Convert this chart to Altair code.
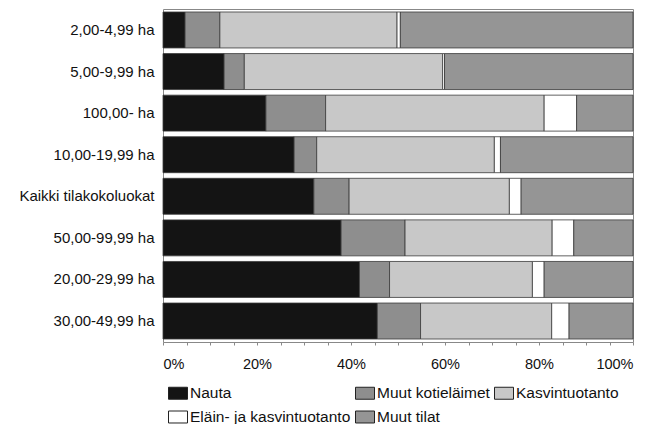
import altair as alt
import pandas as pd

categories = ["2,00-4,99 ha", "5,00-9,99 ha", "100,00- ha", "10,00-19,99 ha",
              "Kaikki tilakokoluokat", "50,00-99,99 ha", "20,00-29,99 ha", "30,00-49,99 ha"]
series = ["Nauta", "Muut kotieläimet", "Kasvintuotanto", "Eläin- ja kasvintuotanto", "Muut tilat"]
colors = ["#141414", "#8e8e8e", "#c8c8c8", "#ffffff", "#959595"]

nauta = [4.7, 13.0, 21.9, 27.9, 32.1, 37.9, 41.8, 45.6]
muut_kotielaimet = [7.4, 4.3, 12.7, 4.8, 7.5, 13.6, 6.4, 9.2]
kasvintuotanto = [37.7, 42.2, 46.5, 37.8, 34.1, 31.3, 30.4, 27.9]
elain_ja_kasvi = [0.7, 0.4, 6.9, 1.3, 2.5, 4.6, 2.5, 3.7]
muut_tilat = [49.5, 40.1, 12.0, 28.2, 23.8, 12.6, 18.9, 13.6]

values = [nauta, muut_kotielaimet, kasvintuotanto, elain_ja_kasvi, muut_tilat]
rows = []
for si, (s, vals) in enumerate(zip(series, values)):
    for c, v in zip(categories, vals):
        rows.append({"luokka": c, "tyyppi": s, "osuus": v, "jarj": si})
df = pd.DataFrame(rows)

FONT = "Liberation Sans"

chart = alt.Chart(df).mark_bar(stroke="#3a3a3a", strokeWidth=0.8).encode(
    y=alt.Y("luokka:N", sort=categories, title=None,
            scale=alt.Scale(paddingInner=0.135, paddingOuter=0.072),
            axis=alt.Axis(ticks=False, domain=False, labelPadding=9, labelLimit=300,
                          labelFontSize=15, labelColor="#111", labelFont=FONT)),
    x=alt.X("osuus:Q", stack="normalize", title=None,
            scale=alt.Scale(domain=[0, 1], nice=False),
            axis=alt.Axis(values=[i / 20 for i in range(21)],
                          labelExpr="(round(datum.value*100) % 20 == 0) ? format(datum.value, '.0%') : ''",
                          grid=False, domain=False, tickSize=3, tickColor="#888",
                          labelPadding=12, labelFontSize=14.5, labelColor="#111",
                          labelFont=FONT, labelOverlap=False)),
    color=alt.Color("tyyppi:N", sort=series,
                    scale=alt.Scale(domain=series, range=colors),
                    legend=alt.Legend(title=None, orient="none", legendX=5, legendY=374,
                                      columns=3, direction="horizontal",
                                      symbolType="M-1,-0.63H1V0.63H-1Z", symbolSize=361,
                                      symbolStrokeColor="#222", symbolStrokeWidth=1,
                                      labelFontSize=15.5, labelFont=FONT, labelColor="#111",
                                      labelLimit=400,
                                      labelOffset=2, columnPadding=2, rowPadding=5,
                                      padding=0)),
    order=alt.Order("jarj:Q"),
).properties(
    width=470, height=333,
    autosize=alt.AutoSizeParams(type="none"),
    padding={"left": 155, "top": 1, "right": 21, "bottom": 82},
).configure_view(stroke="#888", strokeWidth=1)

chart.save("out.html", embed_options={"renderer": "svg", "actions": False})
